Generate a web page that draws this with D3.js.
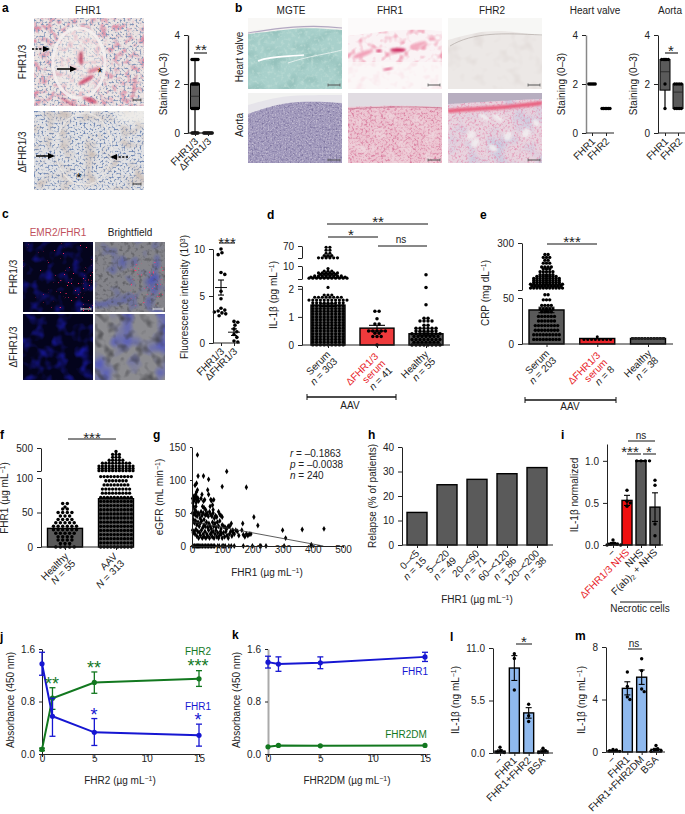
<!DOCTYPE html>
<html><head><meta charset="utf-8">
<script src="https://cdn.jsdelivr.net/npm/d3@7"></script>
<style>
html,body{margin:0;padding:0;background:#fff}
svg{display:block}
text{font-family:"Liberation Sans",Arial,sans-serif;fill:#222}
.tick line{stroke:#222}
</style></head><body>
<script>
// ---------- DATA ----------
const aCats = ["FHR1/3","ΔFHR1/3"];
const aBox = [[0,1,1.5,2,3],[0,0,0,0,0]];
const aLevels = [[[3,6],[2,6],[1,6],[0,6]],[[0,8]]];
const bHeartCats = ["FHR1","FHR2"];
const bHeartLevels = [[[2,5]],[[1,6]]];
const bAortaCats = ["FHR1","FHR2"];
const bAortaBox = [[1,1.75,2.5,3,3],[1,1,1.67,2,2]];
const bAortaLevels = [[[3,5],[2,1],[1,1]],[[2,4],[1,4]]];

const cCats = ["FHR1/3","ΔFHR1/3"];
const cValues = [[10,9.6,9.4,7.5,7.3,5.5,4.7,3.7,3.5,3.4,3.3,3.2,3.1,2.9],[2.3,2.2,1.9,1.5,1.2,0.9,0.6,0.2,0.1]];
const cMean = [5.9,1.15];
const cErr = [0.8,0.35];

const dCats = ["Serum","ΔFHR1/3 serum","Healthy"];
const dMean = [1.42,0.6,0.4];
const dErr = [0.05,0.1,0.07];
const dSerum = [[0,9],[.1,9],[.2,9],[.3,9],[.4,9],[.5,9],[.6,9],[.7,9],[.8,9],[.9,9],[1,9],[1.1,9],[1.2,9],[1.3,9],[1.4,9],[1.5,9],[1.6,11],[1.7,8],[1.78,3],[2.05,1],
 [3,11],[3.6,10],[4.3,8],[5.2,5],[6,6],[7,3],[8.5,1],[13,6],[17,2],[24,3],[35,2],[50,2],[64,2]];
const dDelta = [[0,1],[.3,3],[.42,2],[.5,5],[.75,2],[.93,1],[1.2,2]];
const dHealthy = [[0,8],[.1,7],[.2,8],[.3,7],[.4,8],[.5,6],[.6,6],[.7,2],[.85,4],[.95,2],[1.43,1],[2.05,1],[5,1]];

const eCats = ["Serum","ΔFHR1/3 serum","Healthy"];
const eMean = [37,6,6];
const eErr = [3,0.4,0.2];
const eSerum = [[5,9],[10,9],[15,8],[20,8],[25,6],[30,6],[35,4],[38,5],[42,4],[48,3],[52,2],[65,11],[75,10],[85,11],[95,9],[105,9],[115,9],[125,7],[135,5],[150,5],[165,3],[175,4],[195,3],[210,2],[225,3],[240,2]];
const eDelta = [[5,8],[8,1]];
const eHealthy = [[6,38]];

const fCats = ["Healthy","AAV"];
const fMean = [27,70];
const fHealthy = [[0,5],[5,3],[10,4],[15,4],[20,5],[25,6],[30,6],[35,5],[40,4],[45,3],[50,4],[55,2],[58,1],[63,2]];
const fAAV = [[0,10],[6,10],[12,10],[18,10],[24,10],[30,10],[36,10],[42,10],[48,10],[54,10],[60,10],[66,10],[72,10],[78,9],[84,9],[90,8],[96,7],[101,10],[110,11],[150,11],[190,11],[240,9],[290,5],[340,3],[390,3],[440,1]];

const gPoints = [[18,138],[115,113],[100,90],[180,89],[20,106],[38,106],[55,101],[15,95],[10,92],[205,44],[218,31],[300,24],[365,25],[437,26],[310,12],[168,34],[130,34],[125,30],[395,2],
[2,72],[3,65],[5,60],[4,68],[6,75],[8,70],[10,72],[12,78],[14,66],[15,82],[16,74],[18,85],[17,70],[13,60],[9,55],[20,72],[22,68],[30,72],[33,78],[35,60],[38,68],[42,70],[40,58],[45,55],[48,48],[52,85],[55,78],[60,60],[62,70],[65,69],[68,62],[70,55],[72,70],
[2,50],[5,48],[8,50],[11,47],[14,52],[17,45],[20,50],[24,48],[27,42],[30,52],[33,46],[37,50],[40,40],[44,47],[50,50],[54,45],[58,52],[62,48],[66,45],[70,50],[74,42],[78,46],[82,44],[88,52],[92,48],[96,46],[100,44],
[5,40],[8,35],[12,38],[16,32],[20,36],[24,30],[28,35],[32,38],[36,28],[40,32],[44,30],[48,36],[52,28],[56,34],[60,30],[64,26],[68,36],[72,30],[76,34],[80,28],[84,36],[88,30],[92,38],[96,26],[100,32],[105,30],[110,28],[115,26],[120,30],[135,24],
[2,24],[4,20],[7,22],[10,18],[13,25],[16,15],[19,22],[22,12],[25,20],[28,16],[31,24],[34,12],[37,18],[40,14],[43,22],[46,12],[49,18],[52,15],[55,24],[58,12],[61,18],[64,20],[67,14],[70,22],[73,12],[76,18],[79,24],[82,14],[85,20],[88,12],[91,16],[94,22],[97,18],[100,12],[104,20],[108,14],[112,22],[116,16],[120,12],[124,18],[128,22],[132,15],[136,20],[140,18],[145,24],[150,22],[155,16],[165,24],[170,17],[175,14],[180,18],[185,16],[190,18],[195,18],
[3,0],[7,0],[10,0],[14,0],[18,0],[22,0],[26,0],[30,0],[35,0],[40,0],[45,0],[50,0],[55,0],[60,0],[65,0],[70,0],[75,0],[85,0],[90,0],[100,0],[105,0],[110,0],[122,0],[130,0],[140,0],[170,0],[200,0],[225,0],[228,0],[245,0],[305,0],[395,0]];
const gTrend = [[0,37],[435,0]];

const hCats = ["0–<5","5–<20","20–<60","60–<120","120–<200"];
const hN = [15,49,71,86,38];
const hValues = [13.3,24.6,26.8,29.1,31.6];

const iCats = ["−","ΔFHR1/3 NHS","NHS","F(ab)2 + NHS"];
const iMean = [0.02,0.53,1.0,0.45];
const iErr = [0.01,0.06,0,0.17];
const iPoints = [[0.06,0.02,0.01,0.01,0,0],[0.65,0.52,0.5,0.46],[1,1,1,1],[0.77,0.71,0.25,0.11]];

const jDose = [0,1,5,15];
const jFHR1 = [1.375,0.575,0.33,0.285];
const jFHR1Hi = [1.55,0.85,0.54,0.455];
const jFHR1Lo = [1.2,0.27,0.13,0.12];
const jFHR2 = [0.07,0.85,1.09,1.145];
const jFHR2Hi = [0.09,1.01,1.25,1.27];
const jFHR2Lo = [0.05,0.68,0.925,1.03];

const kFHR1 = [1.4,1.37,1.39,1.48];
const kFHR1Hi = [1.49,1.48,1.48,1.55];
const kFHR1Lo = [1.31,1.26,1.3,1.41];
const kFHR2DM = [0.11,0.13,0.125,0.13];

const lCats = ["−","FHR1","FHR1+FHR2","BSA"];
const lMean = [0.2,8.9,4.2,0.2];
const lErr = [0.12,1.3,0.55,0.12];
const lPoints = [[0.6,0.25,0.1,0.05],[10.4,9.9,6.6],[5.1,3.9,3.3],[0.5,0.25,0.1,0.05]];
const mCats = ["−","FHR1","FHR1+FHR2DM","BSA"];
const mMean = [0.1,4.85,5.7,0.2];
const mErr = [0.03,0.5,0.55,0.08];
const mPoints = [[0.2,0.15,0.1,0.05],[6.1,5,4.2,4],[7.1,6.2,4.8,4.6],[0.5,0.25,0.15,0.1,0.05]];

// ---------- HELPERS ----------
const GREY="#5a5a5a",RED="#e8242a",LBLUE="#8fb9ee",BLUE="#1616d2",GREEN="#12781f",FS=10;
const svg=d3.select("body").append("svg").attr("width",685).attr("height",814);
const defs=svg.append("defs");
let uid=0;
function rich(t,str){
  const parts=str.split(/(\^\{[^}]*\}|_\{[^}]*\}|\*\{[^}]*\})/).filter(s=>s.length);
  let pend=0;
  parts.forEach(p=>{
    const m=p.match(/^([\^_*])\{(.*)\}$/);
    const ts=t.append("tspan");
    if(pend){ts.attr("dy",pend);pend=0;}
    if(!m){ts.text(p);return;}
    ts.text(m[2]);
    if(m[1]==="*")ts.style("font-style","italic");
    if(m[1]==="^"){ts.attr("dy",-3).style("font-size","0.7em");pend=3;}
    if(m[1]==="_"){ts.attr("dy",2).style("font-size","0.7em");pend=-2;}
  });
  return t;
}
function label(x,y,str,o={}){
  const t=svg.append("text").attr("transform",`translate(${x},${y}) rotate(${o.rot||0})`)
   .attr("text-anchor",o.anchor||"middle").style("font-size",(o.size||FS)+"px");
  if(o.color)t.style("fill",o.color);
  if(o.weight)t.style("font-weight",o.weight);
  return rich(t,str);
}
const ylabel=(x,y,s)=>label(x,y,s,{rot:-90});
const panel=(x,y,s)=>label(x,y,s,{anchor:"start",size:12,weight:"bold"}).style("fill","#000");
function stars(x,yc,s,color,size=15){label(x,yc+size*0.52,s,{size,color:color||"#222"});}
function hline(x1,x2,y,w=1,color="#111"){svg.append("line").attr("x1",x1).attr("x2",x2).attr("y1",y).attr("y2",y).attr("stroke",color).attr("stroke-width",w);}
function yAxis(scale,x,ticks,o={}){
  const show=o.show||ticks;
  const g=svg.append("g").attr("transform",`translate(${x},0)`).call(d3.axisLeft(scale).tickValues(ticks).tickSize(o.tick||4).tickSizeOuter(0).tickFormat(d=>show.includes(d)?(o.fmt?o.fmt(d):d):""));
  g.selectAll("text").style("font-size",FS+"px").attr("dx",-1);
  g.selectAll(".domain").style("stroke",o.color||"#222").style("stroke-width",o.width||1);
  g.selectAll(".tick line").attr("stroke-width",1);
  return g;
}
function xTicks(x,y,x1,x2,o={}){
  const g=svg.append("g").attr("transform",`translate(0,${y})`).call(d3.axisBottom(x).tickSize(o.tick||3).tickSizeOuter(0).tickFormat(""));
  g.select(".domain").remove();
  hline(x1,x2,y,o.width||1,o.color||"#222");
}
function rowSwarm(levels,cx,cap,step){
  const out=[];
  levels.forEach(([v,n])=>{
    let left=n;
    while(left>0){const k=Math.min(left,cap);d3.range(k).forEach(i=>out.push({v,x:cx+(i-(k-1)/2)*step}));left-=k;}
  });
  return out;
}
function beeswarm(values,y,cx,r){
  const placed=[];
  values.slice().sort((a,b)=>b-a).forEach(v=>{
    const py=y(v);let off=0,i=0;
    while(placed.some(p=>Math.hypot(p.x-(cx+off),y(p.v)-py)<2*r)){i++;off=(i%2?1:-1)*Math.ceil(i/2)*r*0.5;}
    placed.push({v,x:cx+off});
  });
  return placed;
}
function dots(pts,y,r=1.8,fill="#000"){
  svg.append("g").selectAll("circle").data(pts).join("circle").attr("cx",d=>d.x).attr("cy",d=>y(d.v)).attr("r",r).attr("fill",fill);
}
function bars(cats,vals,x,y,w,fills,sw=1.4){
  svg.append("g").selectAll("rect").data(cats).join("rect")
   .attr("x",d=>x(d)-w/2).attr("width",w)
   .attr("y",(d,i)=>y(vals[i])).attr("height",(d,i)=>y(0)-y(vals[i]))
   .attr("fill",(d,i)=>Array.isArray(fills)?fills[i]:fills).attr("stroke","#000").attr("stroke-width",sw);
}
function errBars(xs,hi,lo,y,capW,color="#000",sw=1.1){
  const g=svg.append("g").attr("stroke",color).attr("stroke-width",sw).attr("fill","none");
  xs.forEach((x,i)=>{
    g.append("line").attr("x1",x).attr("x2",x).attr("y1",y(hi[i])).attr("y2",y(lo[i]));
    [hi[i],lo[i]].forEach(v=>g.append("line").attr("x1",x-capW).attr("x2",x+capW).attr("y1",y(v)).attr("y2",y(v)));
  });
}
function boxes(cats,box,x,y,w){
  cats.forEach((c,i)=>{
    const [mn,q1,md,q3,mx]=box[i],cx=x(c);
    svg.append("line").attr("x1",cx).attr("x2",cx).attr("y1",y(mn)).attr("y2",y(mx)).attr("stroke","#000").attr("stroke-width",1.2);
    if(q3>q1){
     svg.append("rect").attr("x",cx-w/2).attr("width",w).attr("y",y(q3)).attr("height",y(q1)-y(q3)).attr("fill",GREY).attr("stroke","#000").attr("stroke-width",1);
     hline(cx-w/2,cx+w/2,y(md),0.8,"#222");
    }
  });
}
// stained-tissue photographs are texture fills only
function photo(x,y,w,h,base,layers,draw){
  const id="clip"+(++uid);
  defs.append("clipPath").attr("id",id).append("rect").attr("width",w).attr("height",h);
  const g=svg.append("g").attr("transform",`translate(${x},${y})`).attr("clip-path",`url(#${id})`);
  g.append("rect").attr("width",w).attr("height",h).attr("fill",base);
  layers.forEach(l=>{
    const fid="tex"+(++uid);
    const c=d3.color(l.c);
    const f=defs.append("filter").attr("id",fid).attr("x",0).attr("y",0).attr("width","100%").attr("height","100%").attr("color-interpolation-filters","sRGB");
    f.append("feTurbulence").attr("type","fractalNoise").attr("baseFrequency",l.f).attr("numOctaves",l.o||2).attr("seed",uid);
    f.append("feColorMatrix").attr("type","matrix").attr("values",`0 0 0 0 ${c.r/255} 0 0 0 0 ${c.g/255} 0 0 0 0 ${c.b/255} ${l.k} 0 0 0 ${l.a}`);
    const b=l.box||[0,0,w,h];
    g.append("rect").attr("x",b[0]).attr("y",b[1]).attr("width",b[2]).attr("height",b[3]).attr("filter",`url(#${fid})`);
  });
  if(draw&&draw.over)draw.over(g,w,h);
  return g;
}
const soft=defs.append("filter").attr("id","soft").attr("x","-30%").attr("y","-30%").attr("width","160%").attr("height","160%");
soft.append("feGaussianBlur").attr("stdDeviation",1.2);
const soft3=defs.append("filter").attr("id","soft3").attr("x","-30%").attr("y","-30%").attr("width","160%").attr("height","160%");
soft3.append("feGaussianBlur").attr("stdDeviation",3);
function blob(g,cx,cy,rx,ry,c,op=1,blur="soft",rot=0){g.append("ellipse").attr("transform",`translate(${cx},${cy}) rotate(${rot})`).attr("rx",rx).attr("ry",ry).attr("fill",c).attr("opacity",op).attr("filter",`url(#${blur})`);}
function topBand(g,w,pts,c="#f6f5f3"){
  const a=d3.area().x(d=>d[0]*w).y0(0).y1(d=>d[1]).curve(d3.curveBasis);
  g.append("path").attr("d",a(pts)).attr("fill",c);
}
function scalebar(x1,x2,y,c="#333"){
  hline(x1,x2,y,1,c);
  [x1,x2].forEach(x=>svg.append("line").attr("x1",x).attr("x2",x).attr("y1",y-1.5).attr("y2",y+1.5).attr("stroke",c).attr("stroke-width",.7));
}
function arrow(x1,x2,y,dashed){
  const dir=x2>x1?1:-1,tip=x2,base=x2-dir*7;
  const l=svg.append("line").attr("x1",x1).attr("x2",base).attr("y1",y).attr("y2",y).attr("stroke","#000").attr("stroke-width",1.5);
  if(dashed)l.attr("stroke-dasharray","2.2 1.4");
  svg.append("path").attr("d",`M${tip},${y}L${base},${y-3}L${base},${y+3}Z`).attr("fill","#000");
}

// ---------- PANEL a ----------
panel(2,12,"a");
label(88,14,"FHR1");
ylabel(26,62,"FHR1/3"); ylabel(26,152,"ΔFHR1/3");
photo(34,18,110,88,"#ece4e2",[{c:"#dd8fa6",f:.15,k:3,a:-1.4},{c:"#8195b8",f:.5,k:4,a:-1.95}],{over(g){
  blob(g,46,42,24,35,"#f4f0ed",.5,"soft3");
  g.append("ellipse").attr("cx",45).attr("cy",45).attr("rx",26).attr("ry",35).attr("fill","none").attr("stroke","#f5f1ef").attr("stroke-width",3).attr("opacity",.9);
  [[52,62,9,2,"#cf4568",-30],[47,40,2,7,"#c24464",0],[56,82,8,1.8,"#d04a6b",20],[34,84,9,1.3,"#d65a78",30],[60,52,7,2,"#dd7a92",-20],[100,70,1,14,"#d9788f",10]].forEach(b=>blob(g,b[0],b[1],b[2],b[3],b[4],.9,"soft",b[5]));
}});
photo(34,111,110,79,"#e2e2e4",[{c:"#6d86b3",f:.5,k:4,a:-1.95},{c:"#c8b9b0",f:.08,k:2,a:-.95}],{over(g){
  blob(g,110,5,30,8,"#f0eeea",.9,"soft3");
  g.append("ellipse").attr("cx",50).attr("cy",38).attr("rx",28).attr("ry",36).attr("fill","none").attr("stroke","#eee9e4").attr("stroke-width",1.5).attr("opacity",.8);
}});
arrow(32,50,49,true);arrow(57,77,69,false);stars(100,70,"*","#000",13);
arrow(36,55,156,false);arrow(128,110,157,true);stars(79,175,"*","#000",13);
scalebar(133,141,100);scalebar(133,141,184);

{
  const y=d3.scaleLinear().domain([0,4]).range([133,35]);
  const x=d3.scalePoint().domain(aCats).range([195,208]);
  boxes(aCats,aBox,x,y,9);
  aCats.forEach((c,i)=>dots(rowSwarm(aLevels[i],x(c),8,1.2),y,1.7));
  yAxis(y,188,[0,2,4],{width:1.3});
  xTicks(x,133,188,213,{width:1.3});
  ylabel(167,84,"Staining (0–3)");
  stars(201,47,"**");hline(194,207,53,1.1);
  label(199,142,"FHR1/3",{rot:-45,anchor:"end"});
  label(212,142,"ΔFHR1/3",{rot:-45,anchor:"end"});
}

// ---------- PANEL b ----------
panel(235,12,"b");
label(291,14,"MGTE");label(390,14,"FHR1");label(492,14,"FHR2");
ylabel(243,57,"Heart valve");ylabel(243,125,"Aorta");
photo(248,18,94,71,"#a8d0cb",[{c:"#86b6b0",f:.06,k:2,a:-.9},{c:"#c3dfd8",f:.3,k:2,a:-1}],{over(g,w){
  topBand(g,w,[[0,16],[.3,13],[.6,9],[1,12]],"#f3f1ef");
  topBand(g,w,[[0,13],[.3,10],[.6,6],[1,9]],"#f8f7f5");
  g.append("path").attr("d","M10,43C25,37,40,39,56,37").attr("stroke","#fff").attr("stroke-width",1.6).attr("fill","none");
  g.append("path").attr("d","M40,45C60,38,80,36,94,32").attr("stroke","#eef5f3").attr("stroke-width",.8).attr("fill","none");
  g.append("path").attr("d","M0,15C30,10,60,6,94,10").attr("stroke","#b3a8c2").attr("stroke-width",1.2).attr("fill","none");
}});
photo(348,18,94,71,"#faf3f5",[{c:"#f0a3b8",f:.12,k:3,a:-1.45}],{over(g,w){
  g.append("rect").attr("y",44).attr("width",w).attr("height",27).attr("fill","#fbf7f7").attr("opacity",.8);
  topBand(g,w,[[0,18],[.3,14],[.7,11],[1,13]],"#fcfafa");
  [[50,32,8,2,"#cd2f62",0],[31,33,3,1.2,"#d63c6d",0],[40,51,5,1,"#dd5581",-10],[15,36,11,2.5,"#f1a0b8",-20],[70,27,9,2.5,"#f2a9bd",-20]].forEach(b=>blob(g,b[0],b[1],b[2],b[3],b[4],1,"soft",b[5]));
}});
photo(448,18,94,71,"#ece8e6",[{c:"#ddd6d3",f:.08,k:2,a:-1}],{over(g,w){
  topBand(g,w,[[0,22],[.3,14],[.6,12],[1,18]],"#f7f7f5");
  g.append("path").attr("d","M2,28C25,14,55,15,94,17").attr("stroke","#b8b0ac").attr("stroke-width",.8).attr("fill","none");
}});
photo(248,93,94,70,"#a29abd",[{c:"#7d749f",f:.5,k:3,a:-1.4},{c:"#c3bcd2",f:.7,k:3,a:-1.45}],{over(g,w){
  topBand(g,w,[[0,21],[.3,11],[.6,8],[1,10]],"#e6e4ea");
  topBand(g,w,[[0,12],[.3,4],[.6,2],[1,2]],"#f2f2f1");
}});
photo(348,93,94,70,"#ecc4d1",[{c:"#d97e9f",f:.45,k:3,a:-1.4},{c:"#f0dee3",f:.08,k:2,a:-.95}],{over(g,w){
  topBand(g,w,[[0,14],[.5,12],[1,14]],"#e1dce2");
  g.append("path").attr("d","M0,16C30,14,60,13,94,15").attr("stroke","#c97792").attr("stroke-width",.8).attr("fill","none");
}});
photo(448,93,94,70,"#e8d3de",[{c:"#c5c9e0",f:.05,k:2.5,a:-1.15},{c:"#e38fb0",f:.45,k:2.5,a:-1.2}],{over(g,w){
  topBand(g,w,[[0,11],[.5,8],[1,6]],"#b7aec0");
  g.append("path").attr("d","M0,18C30,15,60,15,94,10").attr("stroke","#e9617f").attr("stroke-width",4).attr("fill","none").attr("filter","url(#soft)");
  [[36,24,6,2.5],[50,25,6,2.5],[23,42,4,5],[27,50,4,5],[60,43,4,5],[78,40,4,5],[45,55,5,3],[88,30,4,3]].forEach(b=>blob(g,b[0],b[1],b[2],b[3],"#f2eef0",.9,"soft",35));
}});
[[328,340],[428,440],[528,540]].forEach(s=>{scalebar(s[0],s[1],85,"#555");scalebar(s[0],s[1],160,"#555");});

{
  const y=d3.scaleLinear().domain([0,4]).range([133,35]);
  const x=d3.scalePoint().domain(bHeartCats).range([592,606]);
  yAxis(y,586,[0,2,4],{width:1.5,color:"#888"});
  xTicks(x,133,586,614);
  bHeartCats.forEach((c,i)=>dots(rowSwarm(bHeartLevels[i],x(c),6,1.6),y,1.7));
  label(595,14,"Heart valve");
  ylabel(565,84,"Staining (0–3)");
  label(596,142,"FHR1",{rot:-45,anchor:"end"});
  label(610,142,"FHR2",{rot:-45,anchor:"end"});

  const x2=d3.scalePoint().domain(bAortaCats).range([665,678]);
  boxes(bAortaCats,bAortaBox,x2,y,10);
  bAortaCats.forEach((c,i)=>dots(rowSwarm(bAortaLevels[i],x2(c),4,2.2),y,1.7));
  yAxis(y,658,[0,2,4]);
  xTicks(x2,133,658,685);
  label(670,14,"Aorta");
  ylabel(637,84,"Staining (0–3)");
  stars(671,48,"*");hline(665,678,53,1.1);
  label(669,142,"FHR1",{rot:-45,anchor:"end"});
  label(683,142,"FHR2",{rot:-45,anchor:"end"});
}

// ---------- PANEL c ----------
panel(2,218,"c");
label(58,236,"EMR2/FHR1",{color:"#c0505c"});label(130,236,"Brightfield");
ylabel(17,277,"FHR1/3");ylabel(17,347,"ΔFHR1/3");
photo(23,242,70,70,"#04041c",[{c:"#1616a0",f:.1,k:2,a:-.95},{c:"#ff2a60",f:.6,k:16,a:-11.4,box:[35,25,35,45]},{c:"#ff2a60",f:.6,k:16,a:-12.2,box:[0,0,70,70]}]);
photo(95,242,70,70,"#84848a",[{c:"#4d55b5",f:.06,k:2.5,a:-1.2},{c:"#4a4a4e",f:.25,k:2,a:-1},{c:"#ff3a70",f:.5,k:14,a:-9.8,box:[35,20,35,45]}]);
photo(23,314,70,66,"#03031c",[{c:"#1818a0",f:.09,k:2.5,a:-1.15}]);
photo(95,314,70,66,"#8c8c90",[{c:"#4f55c2",f:.05,k:2.5,a:-1.15},{c:"#3e3e42",f:.1,k:2,a:-.95}]);
scalebar(81,91,309,"#ddd");scalebar(153,163,309,"#ddd");

{
  const y=d3.scaleLinear().domain([0,10]).range([343,249]);
  const x=d3.scalePoint().domain(cCats).range([221,234]);
  cCats.forEach((c,i)=>dots(beeswarm(cValues[i],y,x(c),1.9),y,1.8));
  cCats.forEach((c,i)=>hline(x(c)-6,x(c)+6,y(cMean[i]),1));
  errBars(cCats.map(x),cMean.map((m,i)=>m+cErr[i]),cMean.map((m,i)=>m-cErr[i]),y,3);
  yAxis(y,213,[0,5,10]);
  xTicks(x,343,213,240);
  ylabel(188,297,"Fluorescence intensity (10^{3})");
  stars(227,240,"***");hline(219,235,243,1);
  label(225,352,"FHR1/3",{rot:-45,anchor:"end"});
  label(238,352,"ΔFHR1/3",{rot:-45,anchor:"end"});
}

// ---------- PANEL d ----------
panel(267,219,"d");
{
  const y=d3.scaleLinear().domain([0,2.1,2.5,10,12,70]).range([345,286,279,266,258,246]);
  const x=d3.scalePoint().domain(dCats).range([328,426]);
  const ys=[d3.scaleLinear().domain([0,2.1]).range([345,286]),d3.scaleLinear().domain([2.5,10]).range([279,266]),d3.scaleLinear().domain([12,70]).range([258,246])];
  bars(dCats,dMean,x,y,34,[GREY,"#ee3a3c",GREY]);
  dots(rowSwarm(dSerum,x(dCats[0]),11,3.8),y,1.6);
  dots(rowSwarm(dDelta,x(dCats[1]),6,4.2),y,1.75);
  dots(rowSwarm(dHealthy,x(dCats[2]),8,4),y,1.75);
  errBars(dCats.map(x),dMean.map((m,i)=>m+dErr[i]),dMean.map((m,i)=>m-dErr[i]),y,8);
  yAxis(ys[0],302,[0,1,2,2.1],{show:[0,1,2]});
  yAxis(ys[1],302,[2.5,10],{show:[10]});
  yAxis(ys[2],302,[12,70],{show:[70]});
  xTicks(x,345,302,450);
  ylabel(277,295,"IL-1β (pg mL^{−1})");
  hline(327,428,224);stars(378,219,"**");
  hline(328,378,237);stars(351,232,"*");
  hline(378,427,246);label(401,243,"ns");
  label(331,355,"Serum",{rot:-45,anchor:"end"});label(338,362,"*{n} = 303",{rot:-45,anchor:"end"});
  label(379,357,"ΔFHR1/3",{rot:-45,anchor:"end",color:RED});label(386,364,"serum",{rot:-45,anchor:"end",color:RED});label(393,371,"*{n} = 41",{rot:-45,anchor:"end"});
  label(429,355,"Healthy",{rot:-45,anchor:"end"});label(436,362,"*{n} = 55",{rot:-45,anchor:"end"});
  hline(307,396,397,1.3);[307,396].forEach(v=>svg.append("line").attr("x1",v).attr("x2",v).attr("y1",394).attr("y2",400).attr("stroke","#111"));
  label(350,409,"AAV");
}

// ---------- PANEL e ----------
panel(480,219,"e");
{
  const y=d3.scaleLinear().domain([0,50,55,300]).range([344,298,290,243]);
  const x=d3.scalePoint().domain(eCats).range([546.5,648]);
  bars(eCats,eMean,x,y,35,[GREY,RED,GREY]);
  dots(rowSwarm(eSerum,x(eCats[0]),11,3.2),y,1.7);
  dots(rowSwarm(eDelta,x(eCats[1]),9,3.8),y,1.5);
  dots(rowSwarm(eHealthy,x(eCats[2]),11,3.1),y,1.4,"#222");
  errBars([x(eCats[0])],[eMean[0]+eErr[0]],[eMean[0]-eErr[0]],y,8);
  yAxis(d3.scaleLinear().domain([0,50]).range([344,298]),522,[0,50]);
  yAxis(d3.scaleLinear().domain([55,300]).range([290,243]),522,[55,300],{show:[300]});
  xTicks(x,344,522,673);
  ylabel(489,293,"CRP (mg dL^{−1})");
  hline(547,597,244);stars(572,239,"***");
  label(550,354,"Serum",{rot:-45,anchor:"end"});label(557,361,"*{n} = 203",{rot:-45,anchor:"end"});
  label(601,356,"ΔFHR1/3",{rot:-45,anchor:"end",color:RED});label(608,363,"serum",{rot:-45,anchor:"end",color:RED});label(615,370,"*{n} = 8",{rot:-45,anchor:"end"});
  label(652,354,"Healthy",{rot:-45,anchor:"end"});label(659,361,"*{n} = 38",{rot:-45,anchor:"end"});
  hline(525,616,400,1.3);[525,616].forEach(v=>svg.append("line").attr("x1",v).attr("x2",v).attr("y1",397).attr("y2",403).attr("stroke","#111"));
  label(570,410,"AAV");
}

// ---------- PANEL f ----------
panel(0,439,"f");
{
  const y=d3.scaleLinear().domain([0,100,105,500]).range([547,478,471,448]);
  const x=d3.scalePoint().domain(fCats).range([65,116]);
  bars(fCats,fMean,x,y,35,GREY);
  dots(rowSwarm(fHealthy,x(fCats[0]),7,4.6),y,1.75);
  dots(rowSwarm(fAAV,x(fCats[1]),11,3.4),y,1.65);
  yAxis(d3.scaleLinear().domain([0,100]).range([547,478]),41,[0,50,100]);
  yAxis(d3.scaleLinear().domain([105,500]).range([471,448]),41,[105,500],{show:[500]});
  xTicks(x,547,41,134);
  ylabel(8,498,"FHR1 (µg mL^{−1})");
  hline(68,116,439);stars(92,435,"***");
  label(69,557,"Healthy",{rot:-45,anchor:"end"});label(76,564,"*{N} = 55",{rot:-45,anchor:"end"});
  label(118,557,"AAV",{rot:-45,anchor:"end"});label(125,564,"*{N} = 313",{rot:-45,anchor:"end"});
}

// ---------- PANEL g ----------
panel(153,439,"g");
{
  const x=d3.scaleLinear().domain([0,500]).range([192,343]);
  const y=d3.scaleLinear().domain([0,150]).range([546,447]);
  const sym=d3.symbol().type(d3.symbolDiamond).size(10);
  svg.append("g").selectAll("path").data(gPoints).join("path").attr("d",sym).attr("transform",d=>`translate(${x(d[0])},${y(d[1])})`).attr("fill","#000");
  svg.append("path").attr("d",d3.line().x(d=>x(d[0])).y(d=>y(d[1]))(gTrend)).attr("stroke","#333").attr("stroke-width",.8).attr("fill","none");
  yAxis(y,192,[0,50,100,150],{tick:2});
  const gx=svg.append("g").attr("transform","translate(0,546)").call(d3.axisBottom(x).tickValues([0,100,200,300,400,500]).tickSize(2).tickSizeOuter(0));
  gx.selectAll("text").style("font-size",FS+"px").attr("dy",2);
  gx.select(".domain").style("stroke","#222");
  ylabel(163,497,"eGFR (mL min^{−1})");
  label(267,576,"FHR1 (µg mL^{−1})");
  label(290,457,"*{r} = –0.1863",{anchor:"start"});
  label(290,468,"*{p} = –0.0038",{anchor:"start"});
  label(290,479,"*{n} = 240",{anchor:"start"});
}

// ---------- PANEL h ----------
panel(368,439,"h");
{
  const y=d3.scaleLinear().domain([0,40]).range([545,447]);
  const x=d3.scalePoint().domain(hCats).range([417,537]);
  bars(hCats,hValues,x,y,20,GREY,1.4);
  yAxis(y,402,[0,10,20,30,40]);
  xTicks(x,545,402,553);
  ylabel(376,496,"Relapse (% of patients)");
  hCats.forEach((c,i)=>{
    label(x(c)+3,554,c,{rot:-45,anchor:"end"});
    label(x(c)+10,561,`*{n} = ${hN[i]}`,{rot:-45,anchor:"end"});
  });
  label(477,603,"FHR1 (µg mL^{−1})");
}

// ---------- PANEL i ----------
panel(561,439,"i");
{
  const y=d3.scaleLinear().domain([0,1.2]).range([545,444]);
  const x=d3.scalePoint().domain(iCats).range([613,655]);
  bars(iCats,iMean,x,y,10,[GREY,"#f10e0e",GREY,GREY]);
  iCats.forEach((c,i)=>dots(beeswarm(iPoints[i],y,x(c),1.7),y,1.7));
  errBars(iCats.map(x),iMean.map((m,i)=>m+iErr[i]),iMean.map((m,i)=>m-iErr[i]),y,3);
  yAxis(y,607,[0,0.5,1],{fmt:d=>d3.format(".1f")(d)});
  xTicks(x,545,607,663);
  ylabel(578,495,"IL-1β normalized");
  hline(628,655,441);label(641,439,"ns");
  hline(627,641,454);stars(630,449,"***");
  hline(643,656,454);stars(649,449,"*");
  label(616,553,"−",{rot:-45,anchor:"end"});
  label(630,553,"ΔFHR1/3 NHS",{rot:-45,anchor:"end",color:RED});
  label(644,553,"NHS",{rot:-45,anchor:"end"});
  label(658,553,"F(ab)_{2} + NHS",{rot:-45,anchor:"end"});
  hline(620,662,602);label(640,612,"Necrotic cells");
}

// ---------- PANEL j ----------
panel(0,641,"j");
function lineChart(x,y,series){
  series.forEach(s=>{
    svg.append("path").attr("d",d3.line().x((d,i)=>x(jDose[i])).y(d=>y(d))(s.v)).attr("stroke",s.c).attr("stroke-width",2).attr("fill","none");
    if(s.hi)errBars(jDose.map(x),s.hi,s.lo,y,3,s.c,1.3);
    svg.append("g").selectAll("circle").data(s.v).join("circle").attr("cx",(d,i)=>x(jDose[i])).attr("cy",d=>y(d)).attr("r",2.6).attr("fill",s.c);
  });
}
{
  const x=d3.scaleLinear().domain([0,15]).range([42,199]);
  const y=d3.scaleLinear().domain([0,1.6]).range([754,649]);
  yAxis(y,42,[0,0.8,1.6],{fmt:d=>d3.format(".1f")(d),tick:3});
  const ax=svg.append("g").attr("transform","translate(0,754)").call(d3.axisBottom(x).tickValues([0,5,10,15]).tickSize(3).tickSizeOuter(0));
  ax.selectAll("text").style("font-size",FS+"px").attr("dy",2);
  ax.select(".domain").style("stroke","#222");
  lineChart(x,y,[{v:jFHR2,hi:jFHR2Hi,lo:jFHR2Lo,c:GREEN},{v:jFHR1,hi:jFHR1Hi,lo:jFHR1Lo,c:BLUE}]);
  ylabel(14,700,"Absorbance (450 nm)");
  label(120,784,"FHR2 (µg mL^{−1})");
  label(198,655,"FHR2",{color:GREEN});label(198,710,"FHR1",{color:BLUE});
  stars(52,681,"**",GREEN,18);stars(94,665,"**",GREEN,18);stars(198,663,"***",GREEN,18);
  stars(94,712,"*",BLUE,18);stars(198,717,"*",BLUE,18);
}

// ---------- PANEL k ----------
panel(232,639,"k");
{
  const x=d3.scaleLinear().domain([0,15]).range([268,425]);
  const y=d3.scaleLinear().domain([0,1.6]).range([754,649]);
  yAxis(y,268,[0,0.8,1.6],{fmt:d=>d3.format(".1f")(d),tick:3,color:"#aaa",width:2});
  const ax=svg.append("g").attr("transform","translate(0,754)").call(d3.axisBottom(x).tickValues([0,5,10,15]).tickSize(3).tickSizeOuter(0));
  ax.selectAll("text").style("font-size",FS+"px").attr("dy",2);
  ax.select(".domain").style("stroke","#222");
  lineChart(x,y,[{v:kFHR2DM,c:GREEN},{v:kFHR1,hi:kFHR1Hi,lo:kFHR1Lo,c:BLUE}]);
  ylabel(240,700,"Absorbance (450 nm)");
  label(347,784,"FHR2DM (µg mL^{−1})");
  label(415,675,"FHR1",{color:BLUE});label(406,738,"FHR2DM",{color:GREEN});
}

// ---------- PANEL l ----------
panel(450,641,"l");
{
  const y=d3.scaleLinear().domain([0,11]).range([753,648]);
  const x=d3.scalePoint().domain(lCats).range([500,543]);
  bars(lCats,lMean,x,y,10,LBLUE);
  lCats.forEach((c,i)=>dots(beeswarm(lPoints[i],y,x(c),1.7),y,1.7));
  errBars(lCats.map(x),lMean.map((m,i)=>m+lErr[i]),lMean.map((m,i)=>m-lErr[i]),y,3);
  yAxis(y,493,[0,5.5,11],{fmt:d=>d3.format(".1f")(d)});
  xTicks(x,753,493,553);
  ylabel(459,700,"IL-1β (ng mL^{−1})");
  hline(516,532,644);stars(524,639,"*");
  lCats.forEach((s,i)=>label(x(s)+3,761,s,{rot:-45,anchor:"end"}));
}

// ---------- PANEL m ----------
panel(575,640,"m");
{
  const y=d3.scaleLinear().domain([0,8]).range([752,647]);
  const x=d3.scalePoint().domain(mCats).range([613,656]);
  bars(mCats,mMean,x,y,10,LBLUE);
  mCats.forEach((c,i)=>dots(beeswarm(mPoints[i],y,x(c),1.7),y,1.7));
  errBars(mCats.map(x),mMean.map((m,i)=>m+mErr[i]),mMean.map((m,i)=>m-mErr[i]),y,3);
  yAxis(y,606,[0,4,8]);
  xTicks(x,752,606,665);
  ylabel(585,700,"IL-1β (ng mL^{−1})");
  hline(628,642,649);label(634,647,"ns");
  mCats.forEach((s,i)=>label(x(s)+3,760,s,{rot:-45,anchor:"end"}));
}
</script>
</body></html>
